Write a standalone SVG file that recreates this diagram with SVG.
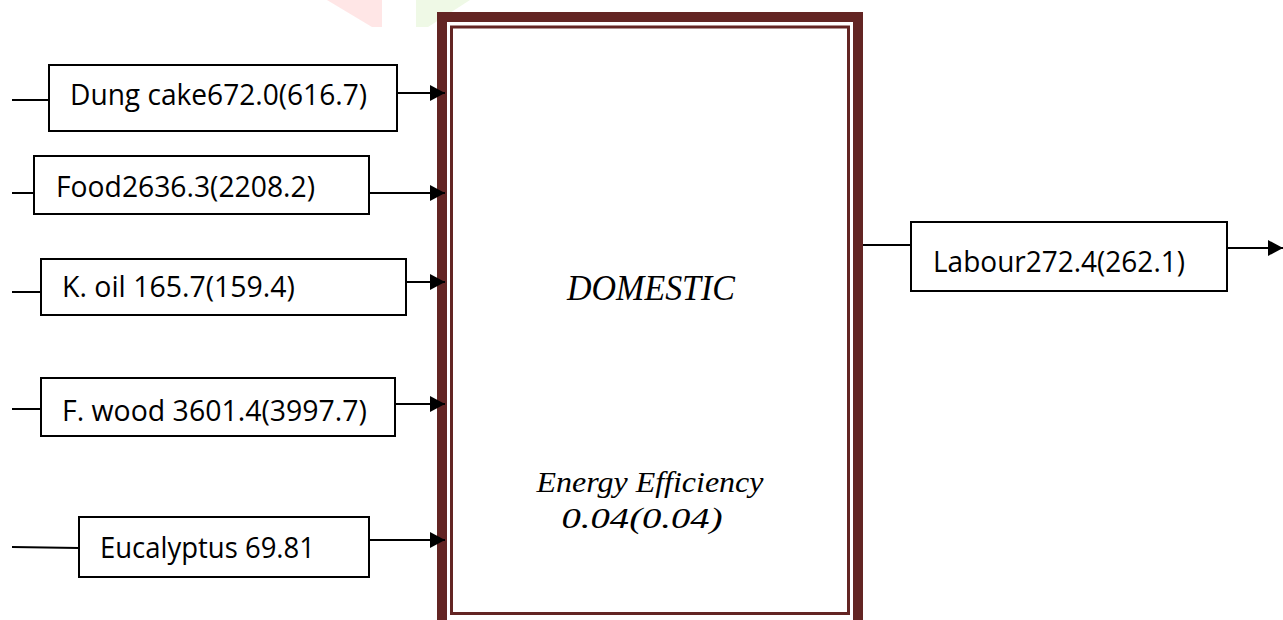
<svg xmlns="http://www.w3.org/2000/svg" width="1283" height="620" viewBox="0 0 1283 620">
  <style>
    .box { fill: #ffffff; stroke: #000000; stroke-width: 2; }
    .lbl { font-family: "Open Sans", "Noto Sans", sans-serif; font-size: 29px; fill: #000000; }
    .ctr { font-family: "Liberation Serif", "DejaVu Serif", serif; font-style: italic; fill: #000000; text-anchor: middle; }
    .wire { stroke: #000000; stroke-width: 2; fill: none; }
    .arrow { stroke: #000000; stroke-width: 2; fill: none; marker-end: url(#head); }
    .frame-outer { fill: none; stroke: #632523; stroke-width: 10; }
    .frame-inner { fill: none; stroke: #632523; stroke-width: 3; }
  </style>
  <defs>
    <marker id="head" markerUnits="userSpaceOnUse" markerWidth="17" markerHeight="17" refX="15" refY="8" orient="auto">
      <path d="M0,0 L15,8 L0,16 Z" fill="#000000"/>
    </marker>
  </defs>

  <rect width="1283" height="620" fill="#ffffff"/>

  <!-- faint background marks along the top edge -->
  <polygon points="327,0 382,0 382,27 372,27" fill="#ffe6e6"/>
  <polygon points="416,0 470,0 428,27 416,27" fill="#eff9e6"/>

  <!-- central process block -->
  <g id="domestic">
    <rect class="frame-outer" x="442" y="17" width="416" height="620"/>
    <rect class="frame-inner" x="451.5" y="27" width="397" height="586.5"/>
    <text class="ctr" x="651" y="300" font-size="36" textLength="168" lengthAdjust="spacingAndGlyphs">DOMESTIC</text>
    <text class="ctr" x="650" y="492" font-size="30" textLength="227" lengthAdjust="spacingAndGlyphs">Energy Efficiency</text>
    <text class="ctr" x="642" y="528" font-size="30" textLength="161" lengthAdjust="spacingAndGlyphs">0.04(0.04)</text>
  </g>

  <!-- input nodes -->
  <g id="dung-cake">
    <rect class="box" x="49" y="65" width="348" height="66"/>
    <text class="lbl" x="70" y="105" textLength="297" lengthAdjust="spacingAndGlyphs">Dung cake672.0(616.7)</text>
  </g>
  <g id="food">
    <rect class="box" x="34" y="156" width="335" height="58"/>
    <text class="lbl" x="56" y="197" textLength="259" lengthAdjust="spacingAndGlyphs">Food2636.3(2208.2)</text>
  </g>
  <g id="k-oil">
    <rect class="box" x="41" y="259" width="365" height="56"/>
    <text class="lbl" x="62" y="297" textLength="233" lengthAdjust="spacingAndGlyphs">K. oil 165.7(159.4)</text>
  </g>
  <g id="f-wood">
    <rect class="box" x="41" y="378" width="354" height="58"/>
    <text class="lbl" x="62" y="421" textLength="305" lengthAdjust="spacingAndGlyphs">F. wood 3601.4(3997.7)</text>
  </g>
  <g id="eucalyptus">
    <rect class="box" x="79" y="517" width="290" height="60"/>
    <text class="lbl" x="100" y="558" textLength="215" lengthAdjust="spacingAndGlyphs">Eucalyptus 69.81</text>
  </g>

  <!-- output node -->
  <g id="labour">
    <rect class="box" x="911" y="222" width="316" height="69"/>
    <text class="lbl" x="933" y="272" textLength="252" lengthAdjust="spacingAndGlyphs">Labour272.4(262.1)</text>
  </g>

  <!-- connectors -->
  <g id="connectors">
    <line class="wire" x1="12" y1="100" x2="49" y2="100"/>
    <line class="arrow" x1="397" y1="93" x2="445" y2="93"/>

    <line class="wire" x1="12" y1="193" x2="34" y2="193"/>
    <line class="arrow" x1="369" y1="193" x2="445" y2="193"/>

    <line class="wire" x1="12" y1="292" x2="41" y2="292"/>
    <line class="arrow" x1="406" y1="282" x2="445" y2="282"/>

    <line class="wire" x1="12" y1="409" x2="41" y2="409"/>
    <line class="arrow" x1="395" y1="404" x2="445" y2="404"/>

    <line class="wire" x1="12" y1="547" x2="79" y2="548"/>
    <line class="arrow" x1="369" y1="540" x2="445" y2="540"/>

    <line class="wire" x1="863" y1="245" x2="911" y2="245"/>
    <line class="arrow" x1="1227" y1="248" x2="1283" y2="248"/>
  </g>
</svg>
